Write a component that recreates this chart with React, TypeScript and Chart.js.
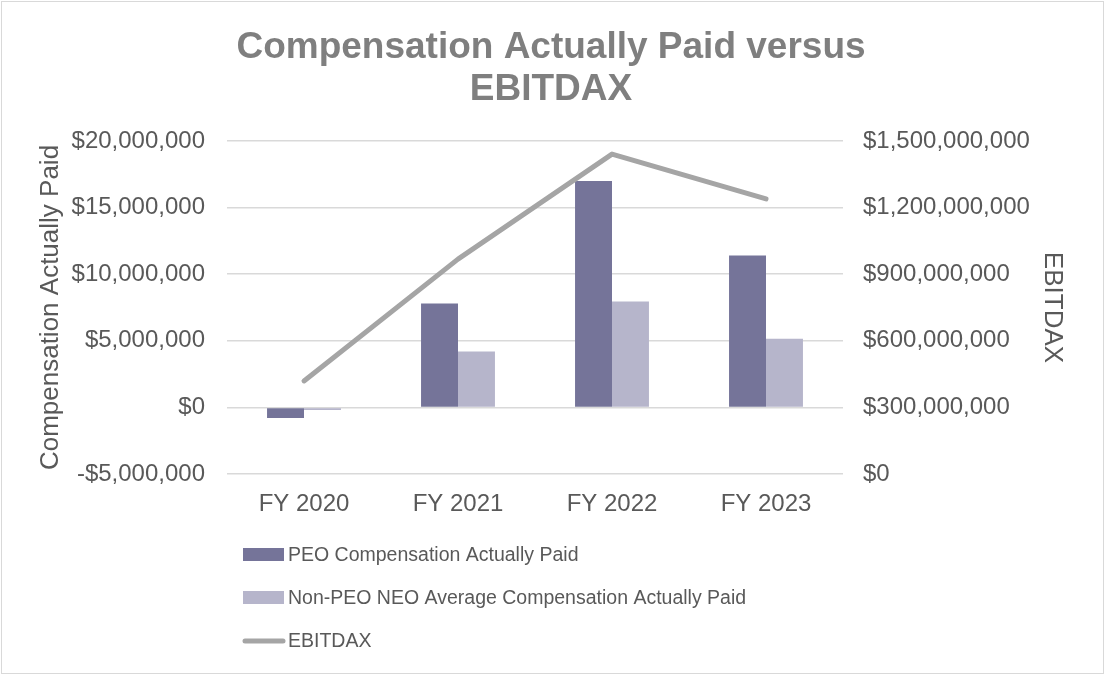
import React, { useEffect, useRef } from "react";
import { Chart, registerables } from "chart.js";

Chart.register(...registerables);

const categories = ["FY 2020", "FY 2021", "FY 2022", "FY 2023"];
const peoCap = [-800000, 7800000, 17000000, 11400000];
const nonPeoCap = [-200000, 4200000, 7950000, 5150000];
const ebitdax = [419000000, 968000000, 1441000000, 1239000000];
const leftTicks = { min: -5000000, max: 20000000, step: 5000000 };
const rightTicks = { min: 0, max: 1500000000, step: 300000000 };
const titleLines = ["Compensation Actually Paid versus", "EBITDAX"];
const leftTitle = "Compensation Actually Paid";
const rightTitle = "EBITDAX";
const seriesNames = [
  "PEO Compensation Actually Paid",
  "Non-PEO NEO Average Compensation Actually Paid",
  "EBITDAX",
];

const FONT = '"Liberation Sans", Arial, sans-serif';
const TEXT = "#595959";
const PEO_COLOR = "#757499";
const NONPEO_COLOR = "#b6b5cb";
const LINE_COLOR = "#a5a5a5";

const fmtMoney = (v: number) => {
  const s = Math.abs(v).toLocaleString("en-US");
  return (v < 0 ? "-$" : "$") + s;
};

const legendPlugin = {
  id: "stackedLegend",
  afterDraw(chart: any) {
    const { ctx, chartArea } = chart;
    const x0 = chartArea.left + 16;
    const y0 = chartArea.bottom + 81;
    const gap = 43;
    ctx.save();
    ctx.font = `19.5px ${FONT}`;
    ctx.fillStyle = TEXT;
    ctx.textBaseline = "middle";
    chart.data.datasets.forEach((ds: any, i: number) => {
      const y = y0 + i * gap;
      if (ds.type === "line") {
        ctx.strokeStyle = ds.borderColor;
        ctx.lineWidth = 5;
        ctx.lineCap = "round";
        ctx.beginPath();
        ctx.moveTo(x0 + 2, y);
        ctx.lineTo(x0 + 40, y);
        ctx.stroke();
      } else {
        ctx.fillStyle = ds.backgroundColor;
        ctx.fillRect(x0, y - 7, 41, 13);
      }
      ctx.fillStyle = TEXT;
      ctx.fillText(ds.label, x0 + 45, y + 1);
    });
    ctx.restore();
  },
};

export default function App() {
  const canvasRef = useRef<HTMLCanvasElement | null>(null);

  useEffect(() => {
    document.body.style.margin = "0";
    const canvas = canvasRef.current;
    if (!canvas) return;
    const chart = new Chart(canvas, {
      type: "bar",
      data: {
        labels: categories,
        datasets: [
          {
            type: "bar",
            label: seriesNames[0],
            data: peoCap,
            backgroundColor: PEO_COLOR,
            yAxisID: "y",
            order: 1,
            categoryPercentage: 0.48,
            barPercentage: 1,
          },
          {
            type: "bar",
            label: seriesNames[1],
            data: nonPeoCap,
            backgroundColor: NONPEO_COLOR,
            yAxisID: "y",
            order: 1,
            categoryPercentage: 0.48,
            barPercentage: 1,
          },
          {
            type: "line",
            label: seriesNames[2],
            data: ebitdax,
            borderColor: LINE_COLOR,
            backgroundColor: LINE_COLOR,
            borderWidth: 5,
            borderCapStyle: "round",
            borderJoinStyle: "round",
            pointRadius: 0,
            tension: 0,
            yAxisID: "y1",
            order: 0,
          } as any,
        ],
      },
      options: {
        responsive: true,
        maintainAspectRatio: false,
        animation: false,
        layout: { padding: { left: 0, right: 10, top: 0, bottom: 148 } },
        plugins: {
          legend: { display: false },
          tooltip: { enabled: false },
          title: {
            display: true,
            text: titleLines,
            color: "#7f7f7f",
            font: { family: FONT, size: 37, weight: "bold", lineHeight: 1.135 },
            padding: { top: 27, bottom: 30 },
          },
        },
        scales: {
          x: {
            grid: { display: false },
            border: { display: false },
            ticks: { color: TEXT, font: { family: FONT, size: 24 }, padding: 8 },
            afterFit: (s: any) => {
              s.height = 60;
            },
          },
          y: {
            position: "left",
            min: leftTicks.min,
            max: leftTicks.max,
            grid: { color: "#d9d9d9", lineWidth: 1.5, drawTicks: false },
            border: { display: false },
            ticks: {
              stepSize: leftTicks.step,
              color: TEXT,
              font: { family: FONT, size: 24 },
              padding: 22,
              callback: (v: any) => fmtMoney(Number(v)),
            },
            title: {
              display: true,
              text: leftTitle,
              color: TEXT,
              font: { family: FONT, size: 26 },
              padding: { top: 35, bottom: 0 },
            },
            afterFit: (s: any) => {
              s.width = 227;
            },
          },
          y1: {
            position: "right",
            min: rightTicks.min,
            max: rightTicks.max,
            grid: { display: false, drawTicks: false },
            border: { display: false },
            ticks: {
              stepSize: rightTicks.step,
              color: TEXT,
              font: { family: FONT, size: 24 },
              padding: 20,
              callback: (v: any) => fmtMoney(Number(v)),
            },
            title: {
              display: true,
              text: rightTitle,
              color: TEXT,
              font: { family: FONT, size: 26 },
              padding: { top: 34, bottom: 0 },
            },
            afterFit: (s: any) => {
              s.width = 259;
            },
          },
        },
      },
      plugins: [legendPlugin],
    });
    return () => chart.destroy();
  }, []);

  return (
    <div style={{ position: "relative", width: 1112, height: 682 }}>
      <div
        style={{
          position: "absolute",
          left: 1,
          top: 1,
          width: 1103,
          height: 673,
          border: "1.5px solid #d9d9d9",
          boxSizing: "border-box",
        }}
      />
      <div style={{ position: "absolute", left: 0, top: 0, width: 1112, height: 682 }}>
        <canvas ref={canvasRef} />
      </div>
    </div>
  );
}
